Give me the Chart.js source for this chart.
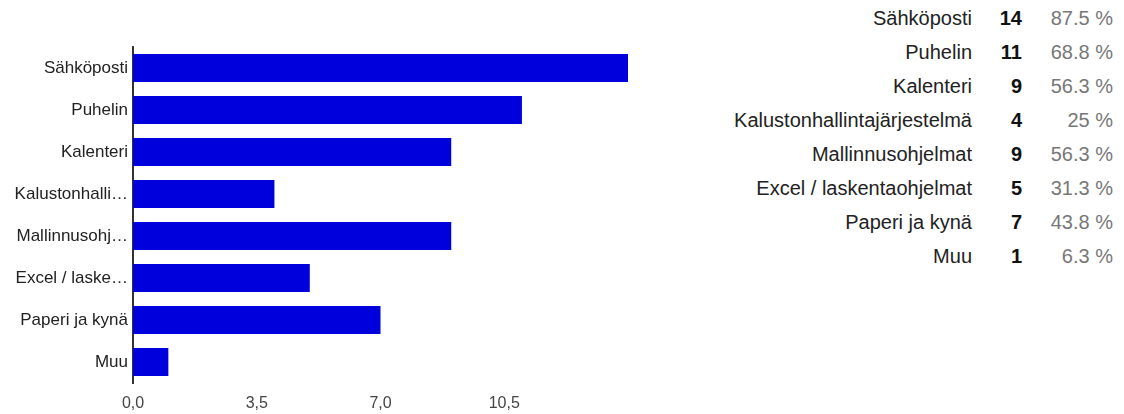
<!DOCTYPE html>
<html lang="fi">
<head>
<meta charset="utf-8">
<title>Yhteydenpitovälineet</title>
<script src="https://cdn.jsdelivr.net/npm/chart.js@4.4.1/dist/chart.umd.min.js"></script>
<style>
  html, body { margin: 0; padding: 0; background: #fff; }
  body { width: 1124px; height: 414px; position: relative; overflow: hidden;
         font-family: Arial, "Liberation Sans", sans-serif; }
  #chartBox { position: absolute; left: 0; top: 0; width: 640px; height: 414px; }
  #summary { position: absolute; top: 1px; left: 700px; border-collapse: collapse; font-size: 20px; }
  #summary td { padding: 0; height: 34px; line-height: 34px; text-align: right; white-space: nowrap; }
  #summary td.lbl { width: 272px; color: #222; }
  #summary td.cnt { width: 50px; color: #111; font-weight: bold; }
  #summary td.pct { width: 91px; color: #777; }
</style>
</head>
<body>
<div id="chartBox"><canvas id="bars" width="640" height="414"></canvas></div>
<table id="summary"><tbody></tbody></table>
<script>
// Vastausvaihtoehdot, vastausmäärät ja osuudet vastaajista
const categories = [
  "Sähköposti",
  "Puhelin",
  "Kalenteri",
  "Kalustonhallintajärjestelmä",
  "Mallinnusohjelmat",
  "Excel / laskentaohjelmat",
  "Paperi ja kynä",
  "Muu"
];
const counts = [14, 11, 9, 4, 9, 5, 7, 1];
const percents = [87.5, 68.8, 56.3, 25, 56.3, 31.3, 43.8, 6.3];
const axisTicks = [0, 3.5, 7, 10.5];
const axisMax = 14;

// Yhteenvetotaulukko oikealla
const tbody = document.querySelector('#summary tbody');
categories.forEach((name, i) => {
  const tr = document.createElement('tr');
  const pct = (Number.isInteger(percents[i]) ? String(percents[i]) : percents[i].toFixed(1)) + ' %';
  [[name, 'lbl'], [String(counts[i]), 'cnt'], [pct, 'pct']].forEach(([txt, cls]) => {
    const td = document.createElement('td');
    td.className = cls;
    td.textContent = txt;
    tr.appendChild(td);
  });
  tbody.appendChild(tr);
});

// Pitkät luokkanimet lyhennetään kolmella pisteellä
const labelFont = '17px Arial, "Liberation Sans", sans-serif';
const measureCtx = document.createElement('canvas').getContext('2d');
measureCtx.font = labelFont;
function shorten(text, maxWidth) {
  if (measureCtx.measureText(text).width <= maxWidth) return text;
  let s = text;
  while (s.length > 1 && measureCtx.measureText(s + '…').width > maxWidth) s = s.slice(0, -1);
  return s.trimEnd() + '…';
}

new Chart(document.getElementById('bars'), {
  type: 'bar',
  data: {
    labels: categories,
    datasets: [{
      data: counts,
      backgroundColor: '#0000dd',
      borderWidth: 0,
      barPercentage: 0.667,
      categoryPercentage: 1.0
    }]
  },
  options: {
    indexAxis: 'y',
    responsive: false,
    animation: false,
    devicePixelRatio: 1,
    layout: { padding: { top: 47, right: 12, left: 0, bottom: 0 } },
    plugins: { legend: { display: false }, tooltip: { enabled: false } },
    scales: {
      x: {
        min: 0,
        max: axisMax,
        afterBuildTicks: (scale) => {
          scale.ticks = axisTicks.concat([axisMax]).map(v => ({ value: v }));
        },
        afterFit: (scale) => { scale.height = 31; },
        grid: { display: false, drawTicks: false },
        border: { display: false },
        ticks: {
          padding: 11,
          color: '#444',
          font: { family: 'Arial, "Liberation Sans", sans-serif', size: 16 },
          maxRotation: 0,
          autoSkip: false,
          callback: (v) => axisTicks.includes(v) ? v.toFixed(1).replace('.', ',') : ''
        }
      },
      y: {
        afterFit: (scale) => { scale.width = 133; },
        grid: { display: false, drawTicks: false },
        border: { display: true, color: '#333', width: 2 },
        ticks: {
          padding: 5,
          color: '#222',
          font: { family: 'Arial, "Liberation Sans", sans-serif', size: 17 },
          autoSkip: false,
          callback: function (v) { return shorten(this.getLabelForValue(v), 120); }
        }
      }
    }
  }
});
</script>
</body>
</html>
